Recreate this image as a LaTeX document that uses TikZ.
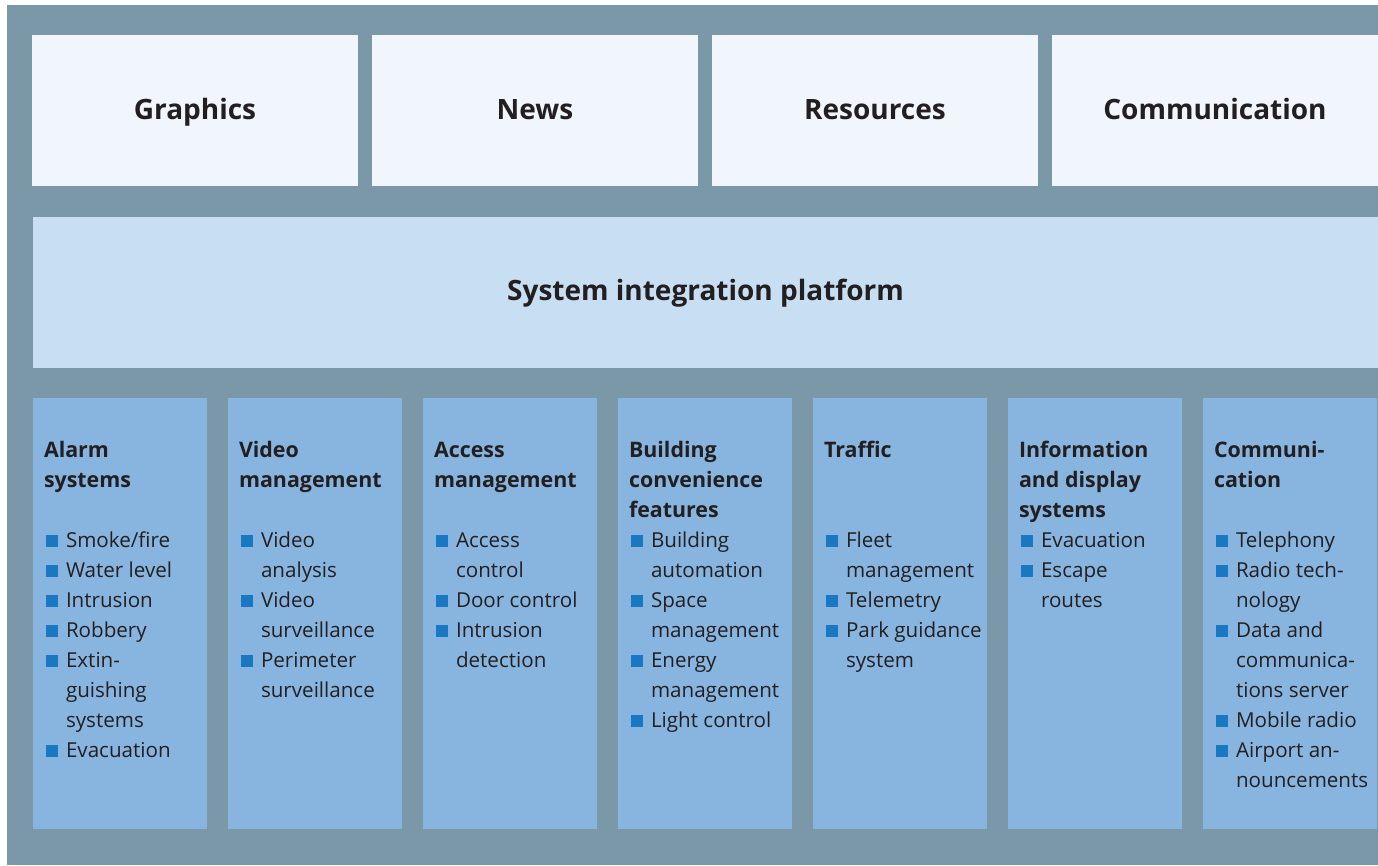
\documentclass[tikz,border=0pt]{standalone}
\usepackage{fontspec}
\setmainfont{Open Sans}
\definecolor{bgc}{HTML}{7B98A9}
\definecolor{topc}{HTML}{F0F6FB}
\definecolor{platc}{HTML}{C8DFF3}
\definecolor{colc}{HTML}{88B5E0}
\definecolor{bulc}{HTML}{1A78C2}
\definecolor{txtc}{HTML}{231F20}
\newcommand\bsq{\hspace*{2pt}\textcolor{bulc}{\rule{12pt}{12pt}}}
\newcommand\itm[1]{\bsq & #1\\}
\newcommand\cnt[1]{ & #1\\}
\newcommand\hd[1]{\multicolumn{2}{@{}l@{}}{\fontsize{21.4}{30}\selectfont\bfseries #1}\\}
\tikzset{
  topbox/.style={fill=topc, draw=none, anchor=north west, inner sep=0pt, outer sep=0pt,
    minimum width=326pt, minimum height=151pt},
  toplabel/.style={text=txtc, anchor=base, inner sep=0pt, font=\fontsize{28}{32}\selectfont\bfseries},
  platbox/.style={fill=platc, draw=none, anchor=north west, inner sep=0pt, outer sep=0pt,
    minimum width=1345pt, minimum height=151pt},
  colbox/.style={fill=colc, draw=none, anchor=north west, inner sep=0pt, outer sep=0pt,
    minimum width=174pt, minimum height=431pt},
  coltext/.style={anchor=base west, inner sep=0pt, outer sep=0pt, text=txtc,
    font=\fontsize{20.6}{30}\selectfont}
}
\begin{document}
\begin{tikzpicture}[x=1pt,y=-1pt]
\useasboundingbox (0,0) rectangle (1378,865);
\fill[bgc] (7,5) rectangle (1378,865);
% top boxes
\node[topbox] (g) at (32,35) {};
\node[topbox] (n) at (372,35) {};
\node[topbox] (r) at (712,35) {};
\node[topbox] (c) at (1052,35) {};
\node[toplabel] (gl) at ([yshift=-9pt]g.center) {Graphics};
\node[toplabel] (nl) at ([yshift=-9pt]n.center) {News};
\node[toplabel] (rl) at ([yshift=-9pt]r.center) {Resources};
\node[toplabel] (cl) at ([yshift=-9pt]c.center) {Communication};
% platform
\node[platbox] (p) at (33,217) {};
\node[toplabel] (pl) at ([yshift=-8pt]p.center) {System integration platform};
% columns
\node[colbox] (c1) at (33,398) {};
\node[colbox] (c2) at (228,398) {};
\node[colbox] (c3) at (423,398) {};
\node[colbox] (c4) at (618,398) {};
\node[colbox] (c5) at (813,398) {};
\node[colbox] (c6) at (1008,398) {};
\node[colbox] (c7) at (1203,398) {};
% column texts
\node[coltext] (t1) at (44,457) {\begin{tabular}[t]{@{}l@{\hspace{8pt}}l@{}}
\hd{Alarm}\hd{systems}\\
\itm{Smoke/fire}\itm{Water level}\itm{Intrusion}\itm{Robbery}\itm{Extin-}\cnt{guishing}\cnt{systems}\itm{Evacuation}
\end{tabular}};
\node[coltext] (t2) at (239,457) {\begin{tabular}[t]{@{}l@{\hspace{8pt}}l@{}}
\hd{Video}\hd{management}\\
\itm{Video}\cnt{analysis}\itm{Video}\cnt{surveillance}\itm{Perimeter}\cnt{surveillance}
\end{tabular}};
\node[coltext] (t3) at (434,457) {\begin{tabular}[t]{@{}l@{\hspace{8pt}}l@{}}
\hd{Access}\hd{management}\\
\itm{Access}\cnt{control}\itm{Door control}\itm{Intrusion}\cnt{detection}
\end{tabular}};
\node[coltext] (t4) at (629,457) {\begin{tabular}[t]{@{}l@{\hspace{8pt}}l@{}}
\hd{Building}\hd{convenience}\hd{features}
\itm{Building}\cnt{automation}\itm{Space}\cnt{management}\itm{Energy}\cnt{management}\itm{Light control}
\end{tabular}};
\node[coltext] (t5) at (824,457) {\begin{tabular}[t]{@{}l@{\hspace{8pt}}l@{}}
\hd{Traffic}\\ \\
\itm{Fleet}\cnt{management}\itm{Telemetry}\itm{Park guidance}\cnt{system}
\end{tabular}};
\node[coltext] (t6) at (1019,457) {\begin{tabular}[t]{@{}l@{\hspace{8pt}}l@{}}
\hd{Information}\hd{and display}\hd{systems}
\itm{Evacuation}\itm{Escape}\cnt{routes}
\end{tabular}};
\node[coltext] (t7) at (1214,457) {\begin{tabular}[t]{@{}l@{\hspace{8pt}}l@{}}
\hd{Communi-}\hd{cation}\\
\itm{Telephony}\itm{Radio tech-}\cnt{nology}\itm{Data and}\cnt{communica-}\cnt{tions server}\itm{Mobile radio}\itm{Airport an-}\cnt{nouncements}
\end{tabular}};
\end{tikzpicture}
\end{document}
